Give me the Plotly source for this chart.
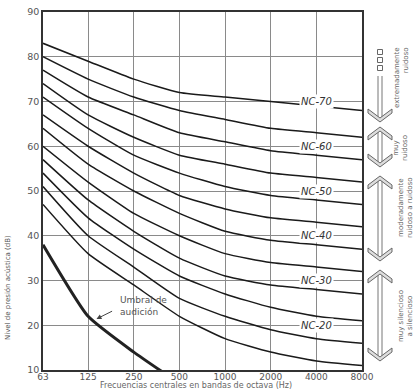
import math
import plotly.graph_objects as go

freqs = [63, 125, 250, 500, 1000, 2000, 4000, 8000]
freq_labels = ["63", "125", "250", "500", "1000", "2000", "4000", "8000"]

nc_names = ["NC-15", "NC-20", "NC-25", "NC-30", "NC-35", "NC-40",
            "NC-45", "NC-50", "NC-55", "NC-60", "NC-65", "NC-70"]
nc_15 = [47, 36, 29, 22, 17, 14, 12, 11]
nc_20 = [51, 40, 33, 26, 22, 19, 17, 16]
nc_25 = [54, 44, 37, 31, 27, 24, 22, 21]
nc_30 = [57, 48, 41, 35, 31, 29, 28, 27]
nc_35 = [60, 52, 45, 40, 36, 34, 33, 32]
nc_40 = [64, 56, 50, 45, 41, 39, 38, 37]
nc_45 = [67, 60, 54, 49, 46, 44, 43, 42]
nc_50 = [71, 64, 58, 54, 51, 49, 48, 47]
nc_55 = [74, 67, 62, 58, 56, 54, 53, 52]
nc_60 = [77, 71, 67, 63, 61, 59, 58, 57]
nc_65 = [80, 75, 71, 68, 66, 64, 63, 62]
nc_70 = [83, 79, 75, 72, 71, 70, 69, 68]
nc_values = [nc_15, nc_20, nc_25, nc_30, nc_35, nc_40,
             nc_45, nc_50, nc_55, nc_60, nc_65, nc_70]

threshold_freqs = [63, 125, 250, 500]
threshold_vals = [38, 22, 14, 7]

label_names = ["NC-70", "NC-60", "NC-50", "NC-40", "NC-30", "NC-20"]
label_levels = [70, 60, 50, 40, 30, 20]
label_freq = 4000

y_ticks = [10, 20, 30, 40, 50, 60, 70, 80, 90]

ratings = ["extremadamente<br>ruidoso", "muy<br>ruidoso",
           "moderadamente<br>ruidoso a ruidoso", "muy silencioso<br>a silencioso"]

W, H = 418, 389
L, R, T, B = 43, 362, 12, 370


def px(x):
    return (x - L) / (R - L)


def py(y):
    return (B - y) / (B - T)


fig = go.Figure()
for name, vals in zip(nc_names, nc_values):
    fig.add_trace(go.Scatter(x=freqs, y=vals, mode="lines", name=name,
                             line=dict(color="#1a1a1a", width=1.5, shape="spline", smoothing=0.5),
                             hoverinfo="skip", showlegend=False))
fig.add_trace(go.Scatter(x=threshold_freqs, y=threshold_vals, mode="lines",
                         line=dict(color="#222", width=3, shape="spline", smoothing=0.5),
                         showlegend=False, hoverinfo="skip"))

annotations = []
for nm, lv in zip(label_names, label_levels):
    annotations.append(dict(x=math.log10(label_freq), y=lv, xref="x", yref="y", text="<i>" + nm + "</i>",
                            showarrow=False, bgcolor="white", borderpad=1,
                            xanchor="center", yanchor="middle",
                            font=dict(family="DejaVu Sans", size=10, color="#333")))

annotations.append(dict(x=math.log10(140), y=21.3, xref="x", yref="y", ax=18, ay=-9,
                        text="", showarrow=True, arrowhead=2, arrowsize=1, arrowwidth=1,
                        arrowcolor="#444", standoff=1))
annotations.append(dict(x=px(118), y=py(306), xref="paper", yref="paper", xanchor="left",
                        yanchor="middle", text="Umbral de<br>audición", showarrow=False, align="left",
                        font=dict(family="DejaVu Sans", size=9, color="#555")))

# axis titles
annotations.append(dict(x=px(8), y=py(288), xref="paper", yref="paper", textangle=-90,
                        xanchor="center", yanchor="middle",
                        text="Nivel de presión acústica (dB)", showarrow=False,
                        font=dict(family="DejaVu Sans", size=7, color="#555")))
annotations.append(dict(x=px(196), y=py(385.5), xref="paper", yref="paper",
                        xanchor="center", yanchor="middle",
                        text="Frecuencias centrales en bandas de octava (Hz)", showarrow=False,
                        font=dict(family="DejaVu Sans", size=8, color="#666")))

# rating texts
rating_pos = [(402, 78, "right"), (400, 148, "center"), (405, 208, "center"), (405, 316, "center")]
for txt, (xx, yy, al) in zip(ratings, rating_pos):
    annotations.append(dict(x=px(xx), y=py(yy), xref="paper", yref="paper", textangle=-90,
                            xanchor="center", yanchor="middle",
                            text=txt, showarrow=False, align=al,
                            font=dict(family="DejaVu Sans", size=7, color="#666")))

shapes = []
c = 380
arrows = [(76, 122, False), (127, 167, True), (176, 261, True), (270, 361, True)]


def poly(pts):
    return "M " + " L ".join(f"{px(a):.5f},{py(b):.5f}" for a, b in pts) + " Z"


for top, bot, up in arrows:
    s_top = top + 4 if up else top
    s_bot = bot - 4
    for dx in (-2, 2):
        shapes.append(dict(type="line", xref="paper", yref="paper", x0=px(c + dx), x1=px(c + dx),
                           y0=py(s_top), y1=py(s_bot), line=dict(color="#777", width=1)))
    t = bot
    shapes.append(dict(type="path", xref="paper", yref="paper",
                       path=poly([(c - 12, t - 9), (c, t), (c + 12, t - 9), (c + 12, t - 13),
                                  (c, t - 4), (c - 12, t - 13)]),
                       fillcolor="#ddd", line=dict(color="#666", width=1)))
    if up:
        t = top
        shapes.append(dict(type="path", xref="paper", yref="paper",
                           path=poly([(c - 12, t + 9), (c, t), (c + 12, t + 9), (c + 12, t + 13),
                                      (c, t + 4), (c - 12, t + 13)]),
                           fillcolor="#ddd", line=dict(color="#666", width=1)))
for sy in (52, 60, 68):
    shapes.append(dict(type="rect", xref="paper", yref="paper", x0=px(c - 2.5), x1=px(c + 2.5),
                       y0=py(sy - 2.5), y1=py(sy + 2.5), line=dict(color="#666", width=1)))

xaxis = dict(type="log", range=[math.log10(63), math.log10(8000)], tickvals=freqs,
             ticktext=freq_labels, showgrid=True, gridcolor="#8a8a8a", gridwidth=1,
             showline=True, linecolor="#333", linewidth=1.6, mirror=True, ticks="",
             automargin=False,
             tickfont=dict(family="DejaVu Sans", size=9, color="#555"), zeroline=False)
yaxis = dict(range=[10, 90], tickvals=y_ticks, showgrid=True, gridcolor="#8a8a8a", gridwidth=1,
             showline=True, linecolor="#333", linewidth=1.6, mirror=True, ticks="",
             automargin=False,
             tickfont=dict(family="DejaVu Sans", size=9.5, color="#555"), zeroline=False)

fig.update_layout(
    width=W, height=H, margin=dict(l=L, r=W - R, t=T, b=H - B, autoexpand=False),
    paper_bgcolor="white", plot_bgcolor="white",
    annotations=annotations, shapes=shapes, xaxis=xaxis, yaxis=yaxis,
)
try:
    fig.update_xaxes(ticklabelstandoff=-3)
except Exception:
    pass
fig.write_html("out.html")
